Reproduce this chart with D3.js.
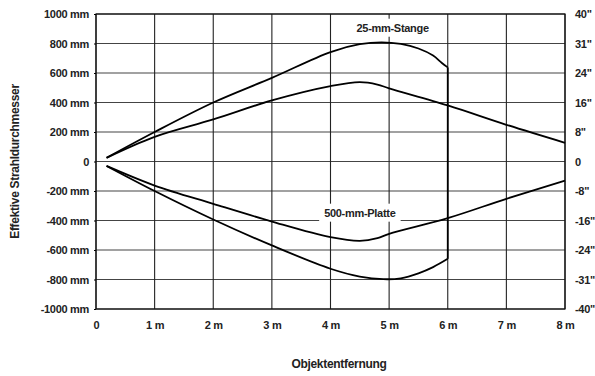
<!DOCTYPE html>
<html>
<head>
<meta charset="utf-8">
<script src="https://cdn.jsdelivr.net/npm/d3@7"></script>
<style>
body{margin:0;background:#fff;}
text{font-family:"Liberation Sans",Arial,sans-serif;font-weight:bold;fill:#222;letter-spacing:-0.3px;}
</style>
</head>
<body>
<div id="chart"></div>
<script>
var aussenOben=[[0.18,25],[1,200],[2,400],[3,567],[4,742],[4.5,795],[4.87,808],[5.2,797],[5.5,766],[5.75,718],[5.9,668],[6,638]];
var aussenUnten=[[0.18,-30],[1,-200],[2,-393],[3,-569],[4,-727],[4.5,-780],[4.9,-798],[5.2,-792],[5.5,-758],[5.75,-716],[6,-660]];
var innenOben=[[0.18,25],[1,167],[2,285],[3,414],[4,511],[4.5,538],[4.8,522],[5,496],[6,380],[7,249],[8,127]];
var innenUnten=[[0.18,-30],[1,-163],[2,-287],[3,-407],[4,-513],[4.5,-538],[4.8,-520],[5,-490],[6,-384],[7,-253],[8,-129]];

var xTicks=[0,1,2,3,4,5,6,7,8];
var xLabels=["0","1 m","2 m","3 m","4 m","5 m","6 m","7 m","8 m"];
var yTicks=[-1000,-800,-600,-400,-200,0,200,400,600,800,1000];
var yLabels=["-1000 mm","-800 mm","-600 mm","-400 mm","-200 mm","0","200 mm","400 mm","600 mm","800 mm","1000 mm"];
var zollLabels=['-40"','-31"','-24"','-16"','-8"','0','8"','16"','24"','31"','40"'];
var beschriftung=[{name:"25-mm-Stange",x:5.06,y:906},{name:"500-mm-Platte",x:4.5,y:-348}];

var W=595,H=376;
var margin={top:14,right:30,bottom:67,left:96};
var svg=d3.select("#chart").append("svg").attr("width",W).attr("height",H);

var x=d3.scaleLinear().domain([0,8]).range([margin.left,W-margin.right]);
var y=d3.scaleLinear().domain([-1000,1000]).range([H-margin.bottom,margin.top]);

// Gitter
svg.append("g").selectAll("line").data(yTicks).enter().append("line")
  .attr("x1",x(0)).attr("x2",x(8))
  .attr("y1",function(d){return y(d);}).attr("y2",function(d){return y(d);})
  .attr("stroke","#444").attr("stroke-width",1.1);
svg.append("g").selectAll("line").data(xTicks).enter().append("line")
  .attr("y1",y(1000)).attr("y2",y(-1000))
  .attr("x1",function(d){return x(d);}).attr("x2",function(d){return x(d);})
  .attr("stroke","#222").attr("stroke-width",1.1);

// Rahmen
svg.append("rect").attr("x",x(0)).attr("y",y(1000))
  .attr("width",x(8)-x(0)).attr("height",y(-1000)-y(1000))
  .attr("fill","none").attr("stroke","#111").attr("stroke-width",1.2);

// Achsen
var yAxis=d3.axisLeft(y).tickValues(yTicks).tickSize(2).tickPadding(5)
  .tickFormat(function(d,i){return yLabels[i];});
var gy=svg.append("g").attr("transform","translate("+x(0)+",0)").call(yAxis);
gy.select(".domain").remove();
gy.selectAll("text").style("font-size","11px").attr("fill","#222");

var zAxis=d3.axisRight(y).tickValues(yTicks).tickSize(0).tickPadding(10)
  .tickFormat(function(d,i){return zollLabels[i];});
var gz=svg.append("g").attr("transform","translate("+x(8)+",0)").call(zAxis);
gz.select(".domain").remove();
gz.selectAll("text").style("font-size","11px").attr("fill","#222");

var xAxis=d3.axisBottom(x).tickValues(xTicks).tickSize(0).tickPadding(12)
  .tickFormat(function(d,i){return xLabels[i];});
var gx=svg.append("g").attr("transform","translate(0,"+y(-1000)+")").call(xAxis);
gx.select(".domain").remove();
gx.selectAll("text").style("font-size","11px").attr("fill","#222");

// Kurven
var linie=d3.line().x(function(d){return x(d[0]);}).y(function(d){return y(d[1]);}).curve(d3.curveCatmullRom.alpha(0.5));
[aussenOben,aussenUnten,innenOben,innenUnten].forEach(function(k){
  svg.append("path").attr("d",linie(k)).attr("fill","none").attr("stroke","#000").attr("stroke-width",1.8);
});
// senkrechter Abschluss bei 6 m
var gerade=d3.line().x(function(d){return x(d[0]);}).y(function(d){return y(d[1]);});
svg.append("path").attr("d",gerade([aussenOben[aussenOben.length-1],aussenUnten[aussenUnten.length-1]]))
  .attr("fill","none").attr("stroke","#000").attr("stroke-width",1.8);

// Beschriftungen mit weissem Hintergrund
beschriftung.forEach(function(b){
  var g=svg.append("g");
  var r=g.append("rect").attr("fill","#fff");
  var t=g.append("text").attr("x",x(b.x)).attr("y",y(b.y)).attr("dy","0.35em")
    .attr("text-anchor","middle").style("font-size","11px").text(b.name);
  var bb=t.node().getBBox();
  r.attr("x",bb.x-5).attr("y",bb.y-3).attr("width",bb.width+10).attr("height",bb.height+6);
});

// Achsentitel
svg.append("text").attr("x",339).attr("y",368).attr("text-anchor","middle")
  .style("font-size","12px").text("Objektentfernung");
svg.append("text").attr("transform","translate(19,"+y(0)+") rotate(-90)").attr("text-anchor","middle")
  .style("font-size","12px").text("Effektive Strahldurchmesser");
</script>
</body>
</html>
